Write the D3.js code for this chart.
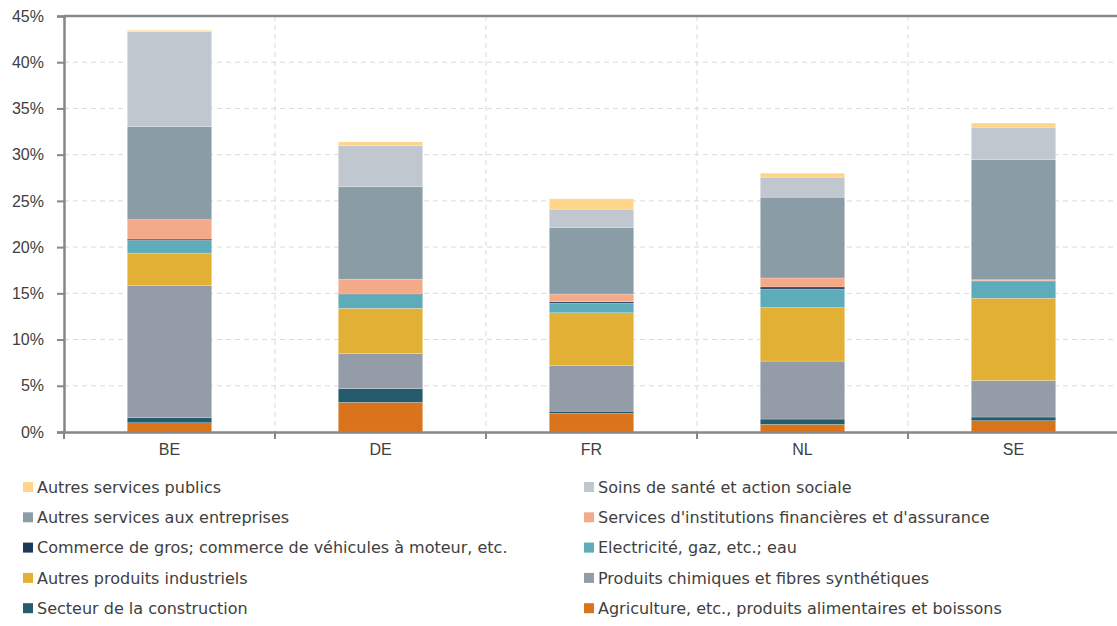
<!DOCTYPE html>
<html>
<head>
<meta charset="utf-8">
<script src="https://cdn.jsdelivr.net/npm/d3@7"></script>
<style>
  body { margin: 0; background: #fff; }
  text { font-family: "Liberation Sans", Arial, sans-serif; fill: #404040; }
  .legend text { font-family: "DejaVu Sans", sans-serif; }
</style>
</head>
<body>
<div id="chart"></div>
<script>
var countries = ["BE", "DE", "FR", "NL", "SE"];

// values in % per country, stack order bottom -> top
var agriculture   = [1.0, 3.2, 2.0, 0.82, 1.22];
var construction  = [0.55, 1.5, 0.25, 0.58, 0.4];
var chimiques     = [14.3, 3.78, 4.93, 6.27, 3.95];
var autresProd    = [3.5, 4.9, 5.72, 5.79, 8.9];
var electricite   = [1.37, 1.5, 1.05, 2.01, 1.87];
var commerce      = [0.15, 0.1, 0.14, 0.22, 0.03];
var financieres   = [2.1, 1.55, 0.83, 0.97, 0.1];
var autresServ    = [10.07, 10.0, 7.2, 8.74, 13.0];
var sante         = [10.26, 4.45, 1.98, 2.16, 3.5];
var publics       = [0.15, 0.4, 1.12, 0.44, 0.45];

var yTicks = [0, 5, 10, 15, 20, 25, 30, 35, 40, 45];

var series = [
  { name: "Agriculture, etc., produits alimentaires et boissons", values: agriculture, color: "#d9731c" },
  { name: "Secteur de la construction", values: construction, color: "#265b6e" },
  { name: "Produits chimiques et fibres synthétiques", values: chimiques, color: "#939ca7" },
  { name: "Autres produits industriels", values: autresProd, color: "#e1b034" },
  { name: "Electricité, gaz, etc.; eau", values: electricite, color: "#5eabba" },
  { name: "Commerce de gros; commerce de véhicules à moteur, etc.", values: commerce, color: "#1b3a5a" },
  { name: "Services d'institutions financières et d'assurance", values: financieres, color: "#f4aa88" },
  { name: "Autres services aux entreprises", values: autresServ, color: "#8a9da7" },
  { name: "Soins de santé et action sociale", values: sante, color: "#c0c7ce" },
  { name: "Autres services publics", values: publics, color: "#ffd58a" }
];

var svgWidth = 1117, svgHeight = 626;
var margin = { top: 16, left: 64, right: -2, bottom: 194 };
var width = svgWidth - margin.left - margin.right;
var height = svgHeight - margin.top - margin.bottom;

var svg = d3.select("#chart").append("svg")
  .attr("width", svgWidth)
  .attr("height", svgHeight);

var g = svg.append("g").attr("transform", `translate(${margin.left},${margin.top})`);

var x = d3.scaleBand().domain(countries).range([0, width]).padding(0);
var y = d3.scaleLinear().domain([0, 45]).range([height, 0]);

// gridlines
g.append("g").selectAll("line").data(yTicks.slice(1, -1)).enter().append("line")
  .attr("x1", 0).attr("x2", width)
  .attr("y1", d => y(d)).attr("y2", d => y(d))
  .attr("stroke", "#d9d9d9").attr("stroke-dasharray", "5,4");

g.append("g").selectAll("line").data(countries.slice(1)).enter().append("line")
  .attr("x1", d => x(d)).attr("x2", d => x(d))
  .attr("y1", 0).attr("y2", height)
  .attr("stroke", "#d9d9d9").attr("stroke-dasharray", "5,4");

// stacked bars
var table = countries.map((c, i) => {
  var row = { country: c };
  series.forEach(s => { row[s.name] = s.values[i]; });
  return row;
});
var stacked = d3.stack().keys(series.map(s => s.name))(table);

var barW = x.bandwidth() * 0.4;
g.append("g").selectAll("g").data(stacked).enter().append("g")
  .attr("fill", (d, i) => series[i].color)
  .selectAll("rect").data(d => d).enter().append("rect")
  .attr("x", d => x(d.data.country) + (x.bandwidth() - barW) / 2)
  .attr("width", barW)
  .attr("y", d => y(d[1]))
  .attr("height", d => y(d[0]) - y(d[1]))
  .attr("stroke", "#ffffff").attr("stroke-opacity", 0.35).attr("stroke-width", 0.6);

// axes
var yAxis = d3.axisLeft(y).tickValues(yTicks).tickFormat(d => d + "%").tickSize(7).tickPadding(13);
var ya = g.append("g").call(yAxis);
ya.select(".domain").attr("stroke", "#878787").attr("stroke-width", 2.5);
ya.selectAll(".tick line").attr("stroke", "#878787").attr("stroke-width", 2);
ya.selectAll(".tick text").attr("font-size", 16).style("fill", "#404040");

// top border
g.append("line").attr("x1", 0).attr("x2", width).attr("y1", 0).attr("y2", 0)
  .attr("stroke", "#878787").attr("stroke-width", 2.5);

var xa = g.append("g").attr("transform", `translate(0,${height})`)
  .call(d3.axisBottom(x).tickSize(0).tickPadding(12));
xa.select(".domain").attr("stroke", "#878787").attr("stroke-width", 2.5);
xa.selectAll(".tick text").attr("font-size", 16).style("fill", "#404040");

// x tick marks at category boundaries
xa.selectAll("line.bound").data(countries).enter().append("line")
  .attr("class", "bound")
  .attr("x1", d => x(d)).attr("x2", d => x(d))
  .attr("y1", 0).attr("y2", 7)
  .attr("stroke", "#878787").attr("stroke-width", 2);

// legend, reverse stack order, two columns
var legendItems = series.slice().reverse();
var legend = svg.append("g").attr("class", "legend");
var li = legend.selectAll("g").data(legendItems).enter().append("g")
  .attr("transform", (d, i) => `translate(${i % 2 === 0 ? 23 : 584},${487 + Math.floor(i / 2) * 30.3})`);
li.append("rect").attr("x", 0).attr("y", -5).attr("width", 10).attr("height", 10)
  .attr("fill", d => d.color);
li.append("text").attr("x", 14).attr("y", 0).attr("dy", "0.35em")
  .attr("font-size", 16).text(d => d.name);
</script>
</body>
</html>
